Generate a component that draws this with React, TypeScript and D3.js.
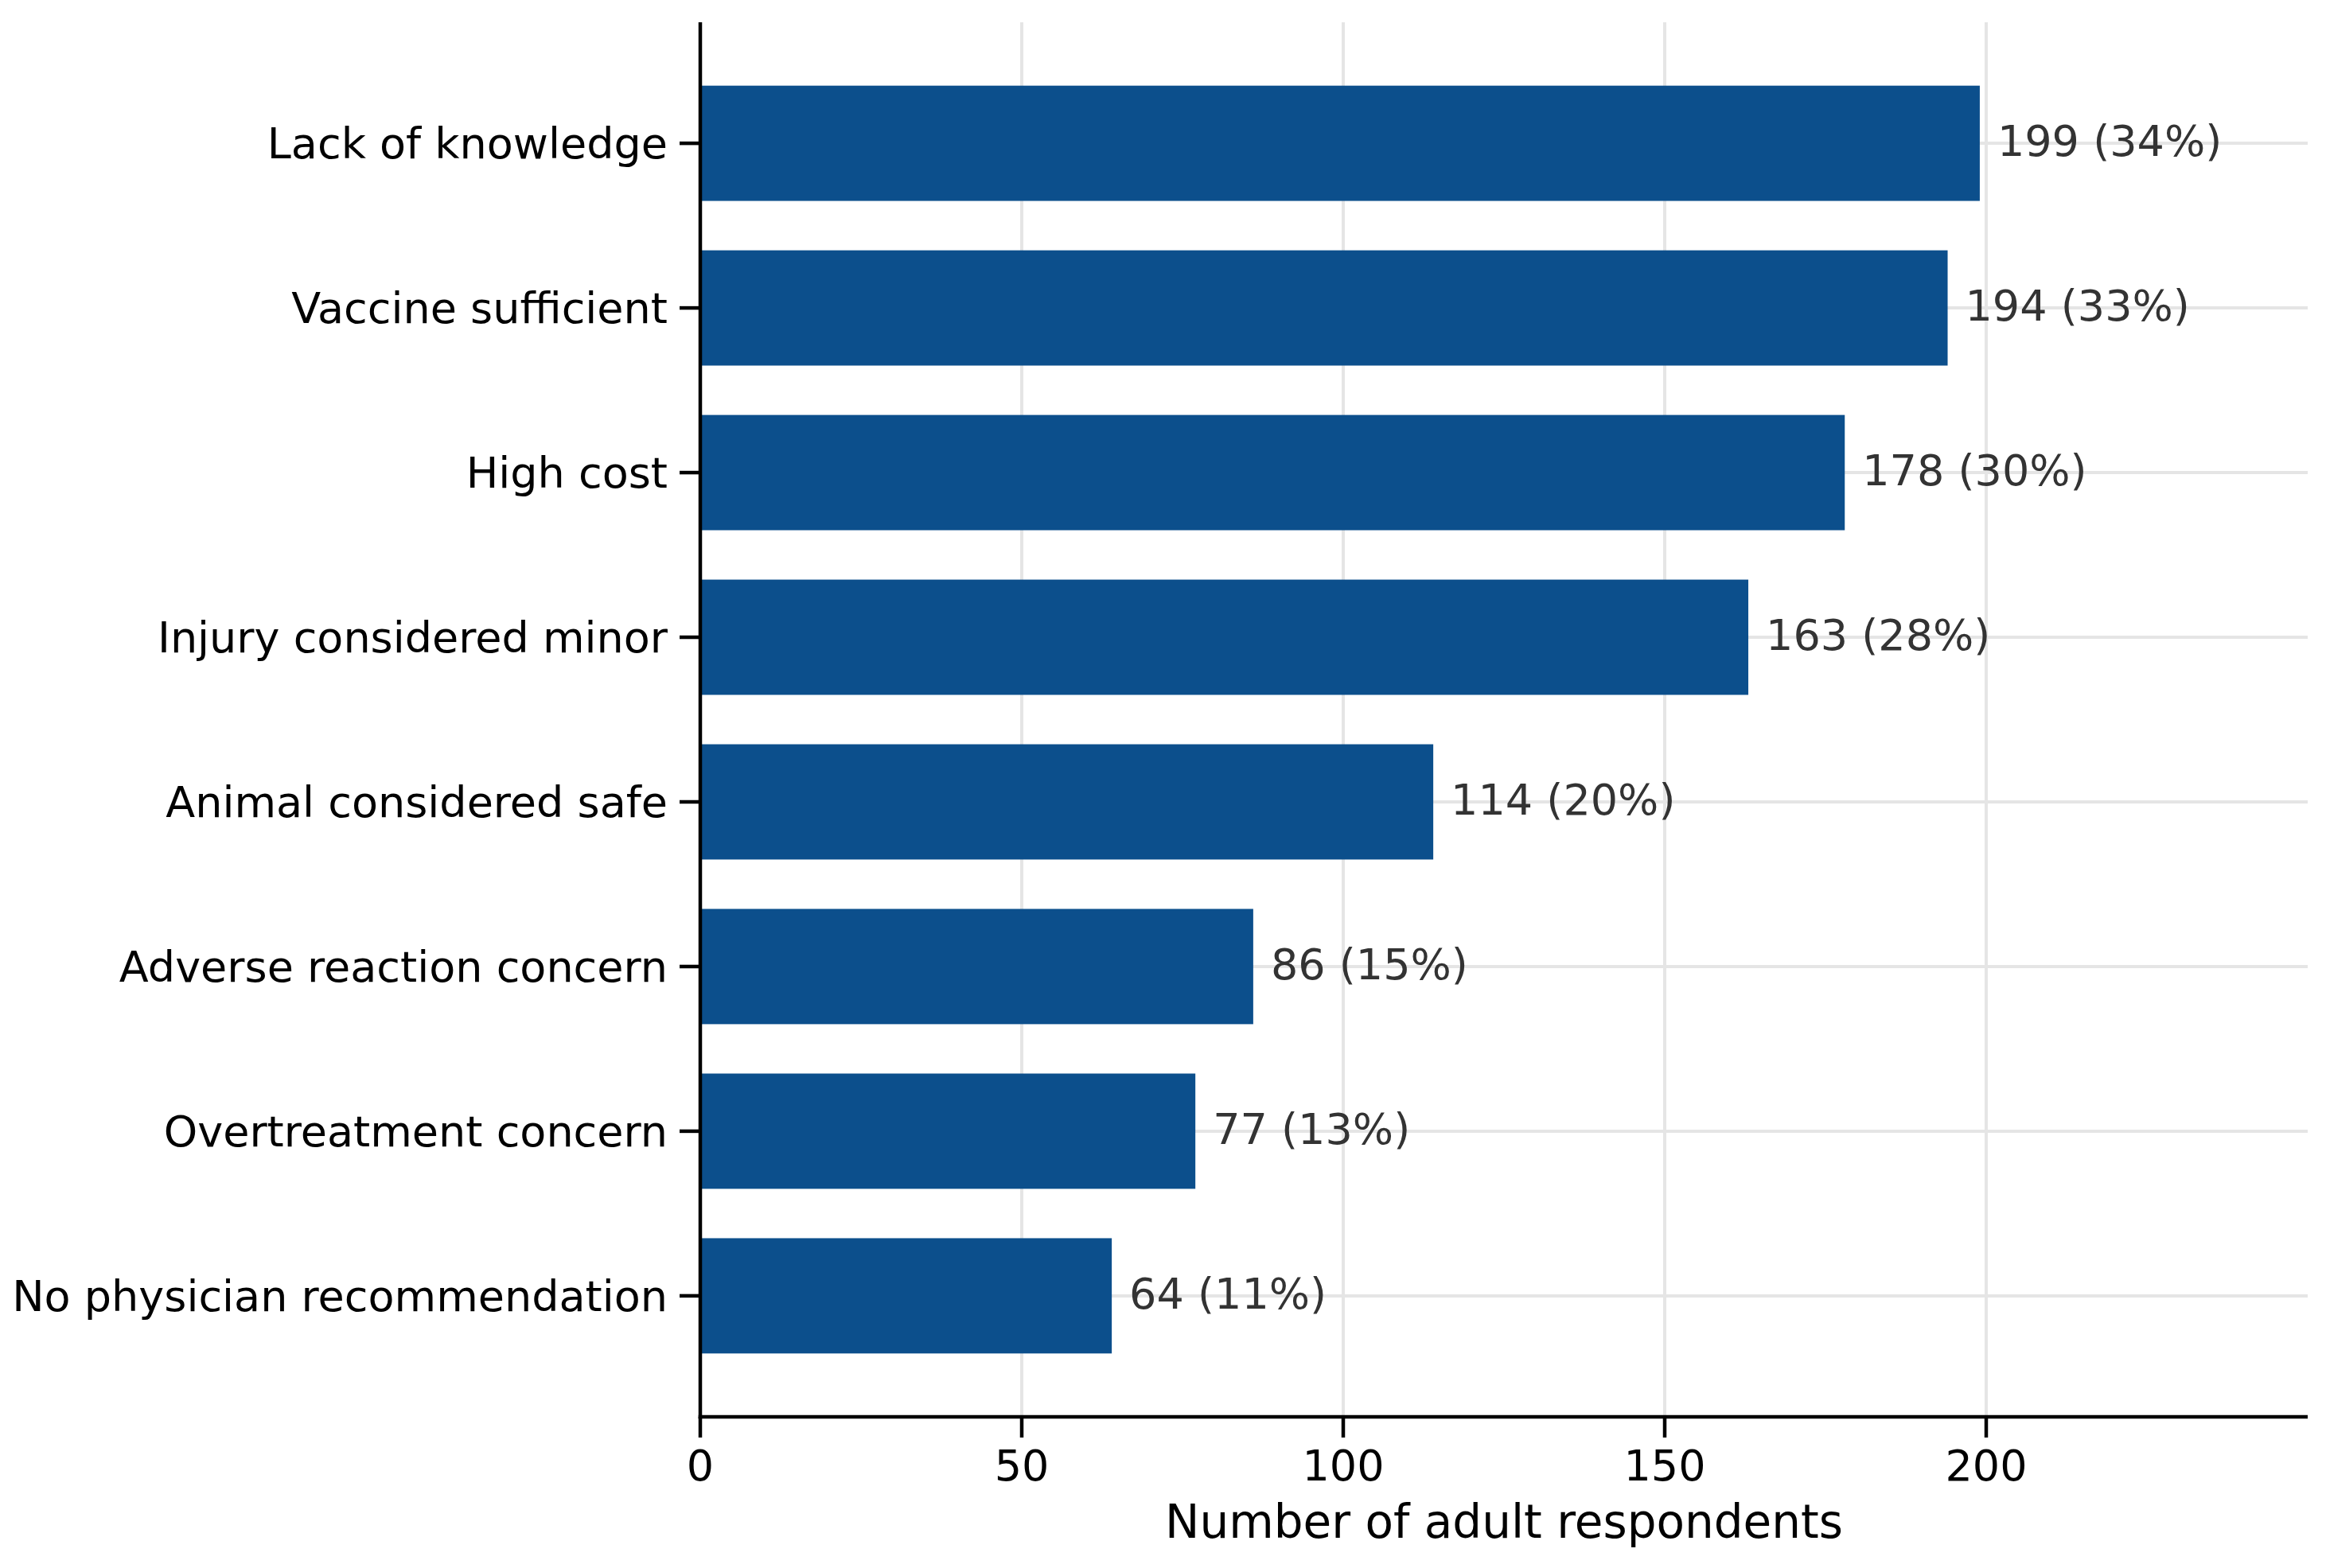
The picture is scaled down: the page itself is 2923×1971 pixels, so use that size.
import React, { useEffect, useRef } from 'react';
import * as d3 from 'd3';

const categories = [
  'Lack of knowledge',
  'Vaccine sufficient',
  'High cost',
  'Injury considered minor',
  'Animal considered safe',
  'Adverse reaction concern',
  'Overtreatment concern',
  'No physician recommendation',
];
const counts = [199, 194, 178, 163, 114, 86, 77, 64];
const percents = [34, 33, 30, 28, 20, 15, 13, 11];
const xTicks = [0, 50, 100, 150, 200];
const xLabel = 'Number of adult respondents';

const W = 2923;
const H = 1971;

export default function App() {
  const svgRef = useRef<SVGSVGElement | null>(null);

  useEffect(() => {
    if (!svgRef.current) return;
    document.body.style.margin = '0';
    const svg = d3.select(svgRef.current);
    svg.selectAll('*').remove();

    const left = 880;
    const right = 2900;
    const top = 28;
    const bottom = 1781;
    const font = 'DejaVu Sans, sans-serif';
    const tickSize = 54;

    const x = d3.scaleLinear().domain([0, 250]).range([left, right]);
    // matplotlib-like limits: bars of height 0.7 plus 5% margin
    const y = d3.scaleLinear().domain([-0.735, categories.length - 1 + 0.735]).range([top, bottom]);
    const barH = y(0.7) - y(0);

    const data = categories.map((c, i) => ({ c, i, n: counts[i], p: percents[i] }));

    svg.append('rect').attr('width', W).attr('height', H).attr('fill', '#ffffff');

    // grid
    const grid = svg.append('g').attr('stroke', '#e5e5e5').attr('stroke-width', 4);
    grid.selectAll('line.v')
      .data(xTicks)
      .enter()
      .append('line')
      .attr('x1', (d) => x(d))
      .attr('x2', (d) => x(d))
      .attr('y1', top)
      .attr('y2', bottom);
    grid.selectAll('line.h')
      .data(data)
      .enter()
      .append('line')
      .attr('x1', left)
      .attr('x2', right)
      .attr('y1', (d) => y(d.i))
      .attr('y2', (d) => y(d.i));

    // bars
    svg.append('g')
      .selectAll('rect')
      .data(data)
      .enter()
      .append('rect')
      .attr('x', x(0))
      .attr('y', (d) => y(d.i) - barH / 2)
      .attr('width', (d) => x(d.n) - x(0))
      .attr('height', barH)
      .attr('fill', '#0c4f8c');

    // value labels
    svg.append('g')
      .selectAll('text')
      .data(data)
      .enter()
      .append('text')
      .attr('x', (d) => x(d.n) + 22)
      .attr('y', (d) => y(d.i) + 16)
      .attr('fill', '#333333')
      .style('font-family', font)
      .style('font-size', `${tickSize}px`)
      .text((d) => `${d.n} (${d.p}%)`);

    // y axis
    const yAxis = svg.append('g');
    yAxis.append('line')
      .attr('x1', left).attr('x2', left)
      .attr('y1', top).attr('y2', bottom + 2.25)
      .attr('stroke', '#000').attr('stroke-width', 4.5);
    const yt = yAxis.selectAll('g.tick').data(data).enter().append('g');
    yt.append('line')
      .attr('x1', left - 26).attr('x2', left)
      .attr('y1', (d) => y(d.i)).attr('y2', (d) => y(d.i))
      .attr('stroke', '#000').attr('stroke-width', 4.5);
    yt.append('text')
      .attr('x', left - 41)
      .attr('y', (d) => y(d.i) + 19)
      .attr('text-anchor', 'end')
      .attr('fill', '#000')
      .style('font-family', font)
      .style('font-size', `${tickSize}px`)
      .text((d) => d.c);

    // x axis
    const xAxis = svg.append('g');
    xAxis.append('line')
      .attr('x1', left - 2.25).attr('x2', right)
      .attr('y1', bottom).attr('y2', bottom)
      .attr('stroke', '#000').attr('stroke-width', 4.5);
    const xt = xAxis.selectAll('g.tick').data(xTicks).enter().append('g');
    xt.append('line')
      .attr('x1', (d) => x(d)).attr('x2', (d) => x(d))
      .attr('y1', bottom).attr('y2', bottom + 26)
      .attr('stroke', '#000').attr('stroke-width', 4.5);
    xt.append('text')
      .attr('x', (d) => x(d))
      .attr('y', 1861)
      .attr('text-anchor', 'middle')
      .attr('fill', '#000')
      .style('font-family', font)
      .style('font-size', `${tickSize}px`)
      .text((d) => String(d));

    svg.append('text')
      .attr('x', (left + right) / 2)
      .attr('y', 1933)
      .attr('text-anchor', 'middle')
      .attr('fill', '#000')
      .style('font-family', font)
      .style('font-size', '58px')
      .text(xLabel);
  }, []);

  return (
    <div style={{ position: 'absolute', left: 0, top: 0 }}>
      <svg ref={svgRef} width={W} height={H} />
    </div>
  );
}
